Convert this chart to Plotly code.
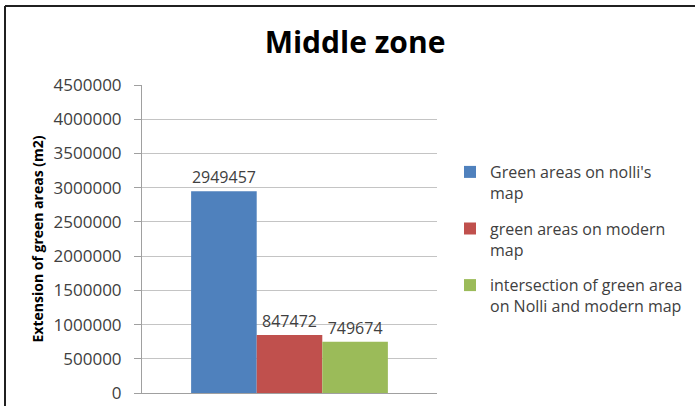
import plotly.graph_objects as go

series_names = ["Green areas on nolli's<br>map", "green areas on modern<br>map", "intersection of green area<br>on Nolli and modern map"]
values = [2949457, 847472, 749674]
colors = ["#4f81bd", "#c0504d", "#9bbb59"]
tick_vals = [0, 500000, 1000000, 1500000, 2000000, 2500000, 3000000, 3500000, 4000000, 4500000]

W, H = 695, 406
L, R, T, B = 142, 258, 85, 13
pw, ph = W - L - R, H - T - B
FONT = "Open Sans"

fig = go.Figure()
for i, (name, v, c) in enumerate(zip(series_names, values, colors)):
    fig.add_trace(go.Bar(
        x=[""], y=[v], name=name, legendgroup=f"g{i}",
        marker=dict(color=c, line=dict(width=0)),
        text=[str(v)], textposition="outside", cliponaxis=False,
        textfont=dict(size=16, color="#404040", family=FONT),
    ))

def px_x(p):
    return (p - L) / pw

def px_y(p):
    return (H - B - p) / ph

fig.update_layout(
    width=W, height=H,
    margin=dict(l=L, r=R, t=T, b=B, autoexpand=False),
    paper_bgcolor="white", plot_bgcolor="white",
    barmode="group", bargap=0.333, bargroupgap=0,
    font=dict(family=FONT, color="#404040"),
    title=dict(text="<b>Middle zone</b>", x=355 / W, xanchor="center", y=1 - 42 / H, yanchor="middle",
               font=dict(size=30, color="#000000", family=FONT)),
    xaxis=dict(showticklabels=False, showline=True, linecolor="#a0a0a0", linewidth=1, ticks=""),
    yaxis=dict(range=[0, 4500000], tickvals=tick_vals, ticktext=[str(t) for t in tick_vals],
               showgrid=True, gridcolor="#c4c4c4", gridwidth=1, zeroline=False,
               showline=True, linecolor="#a0a0a0", linewidth=1,
               ticks="outside", ticklen=7, tickcolor="#a0a0a0", ticklabelstandoff=9,
               tickfont=dict(size=17, color="#404040", family=FONT),
               title=dict(text="<b>Extension of green areas (m2)</b>", standoff=6,
                          font=dict(size=14, color="#000000", family=FONT))),
    legend=dict(x=px_x(450), y=px_y(155), xanchor="left", yanchor="top", valign="top",
                font=dict(size=16, color="#404040", family=FONT),
                tracegroupgap=12, itemwidth=30),
    showlegend=True,
)

fig.add_shape(type="line", xref="paper", yref="paper", x0=px_x(5), x1=px_x(700), y0=px_y(6), y1=px_y(6),
              line=dict(color="#202020", width=2))
fig.add_shape(type="line", xref="paper", yref="paper", x0=px_x(5), x1=px_x(5), y0=px_y(6), y1=px_y(410),
              line=dict(color="#202020", width=2))

fig.write_html("out.html")
